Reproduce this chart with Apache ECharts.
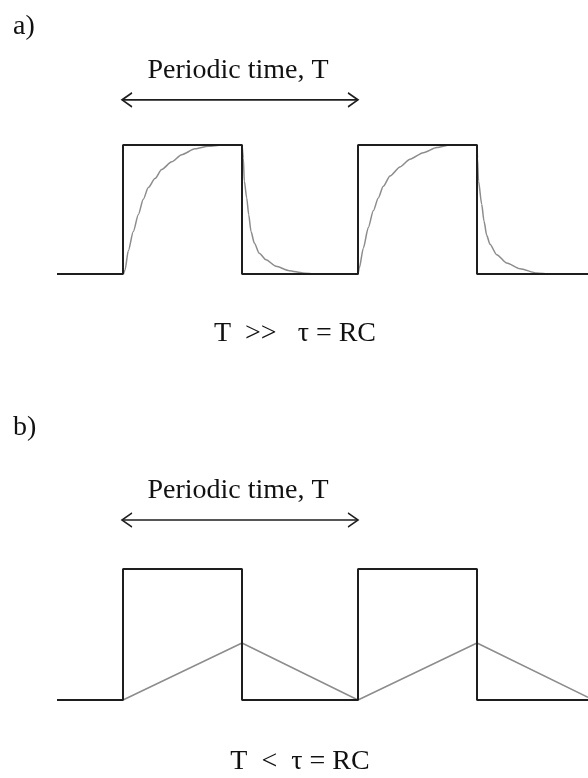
<!DOCTYPE html>
<html>
<head>
<meta charset="UTF-8">
<title>RC response to a square wave</title>
<script src="https://cdn.jsdelivr.net/npm/echarts@6/dist/echarts.min.js"></script>
<style>
  html, body { margin: 0; padding: 0; background: #fff; }
  #chart { width: 588px; height: 778px; }
</style>
</head>
<body>
<div id="chart"></div>
<script>
// time axis runs 0..588, level 0 = low, 1 = high
var squareWave = [[57,0],[123,0],[123,1],[242,1],[242,0],[358,0],[358,1],[477,1],[477,0],[588,0]];

// a) T >> RC : capacitor voltage
var rcShort = [
  [123.5,0],[125,0.03],[128.3,0.18],[133.3,0.33],[138.3,0.46],[143.3,0.58],[148.3,0.67],
  [155,0.74],[161.7,0.81],[171.7,0.87],[181.7,0.925],[195,0.97],[208.3,0.99],[221.7,1],[242,1],
  [243.3,0.9],[244.3,0.72],[246.7,0.59],[248.7,0.46],[251,0.33],[254.3,0.24],[259.3,0.16],
  [266,0.11],[276,0.06],[289.3,0.026],[302.7,0.008],[316,0],[358,0],
  [359.3,0.047],[363.3,0.2],[368.3,0.36],[373.3,0.49],[378.3,0.59],[383.3,0.68],[390,0.76],
  [400,0.83],[410,0.89],[423.3,0.94],[436.7,0.98],[450,1],[477,1],
  [477.5,0.9],[478.5,0.72],[481.7,0.54],[484,0.41],[486.7,0.30],[490,0.23],[496.7,0.15],
  [506.7,0.085],[520,0.04],[536.7,0.008],[550,0],[588,0]
];

// b) T < RC : triangle-ish ramp
var rcLong = [[123,0],[242,0.435],[358,0],[477,0.435],[588,0.02]];

// periodic time arrow: one rising edge to the next
var periodStart = 122, periodEnd = 358;
var arrowLevelA = 1.35, arrowLevelB = 1.374;

var labels = {
  a: 'a)', b: 'b)',
  period: 'Periodic time, T',
  condA: 'T\u2002>>\u2002 \u03c4 = RC',
  condB: 'T\u2002<\u2002\u03c4 = RC'
};

var serif = '"Liberation Serif", "DejaVu Serif", serif';
var black = '#1e1e1e', grey = '#8c8c8c';

function arrowSeries(idx, level) {
  return {
    type: 'line', xAxisIndex: idx, yAxisIndex: idx, clip: false, silent: true,
    showSymbol: true, symbolSize: [10, 14], animation: false,
    lineStyle: { color: black, width: 1.6 },
    itemStyle: { color: 'none', borderColor: black, borderWidth: 1.5 },
    emphasis: { disabled: true },
    data: [
      { value: [periodStart, level], symbol: 'path://M10,0 L0,7 L10,14', symbolOffset: [5, 0] },
      { value: [periodEnd, level], symbol: 'path://M0,0 L10,7 L0,14', symbolOffset: [-5, 0] }
    ]
  };
}

function waveSeries(idx, data, color, width, smooth) {
  return {
    type: 'line', xAxisIndex: idx, yAxisIndex: idx, clip: false, silent: true,
    showSymbol: false, animation: false, smooth: smooth || false, smoothMonotone: 'x',
    lineStyle: { color: color, width: width },
    emphasis: { disabled: true },
    data: data
  };
}

function text(str, x, y, align) {
  return {
    type: 'text', x: x, y: y, silent: true,
    style: { text: str, font: '28px ' + serif, fill: '#111', textAlign: align || 'center', textVerticalAlign: 'middle' }
  };
}

var chart = echarts.init(document.getElementById('chart'), null, { renderer: 'canvas' });
chart.setOption({
  backgroundColor: '#fff',
  animation: false,
  grid: [
    { left: 0, right: 0, top: 145, height: 129 },
    { left: 0, right: 0, top: 569, height: 131 }
  ],
  xAxis: [
    { type: 'value', gridIndex: 0, min: 0, max: 588, show: false },
    { type: 'value', gridIndex: 1, min: 0, max: 588, show: false }
  ],
  yAxis: [
    { type: 'value', gridIndex: 0, min: 0, max: 1, show: false },
    { type: 'value', gridIndex: 1, min: 0, max: 1, show: false }
  ],
  series: [
    waveSeries(0, rcShort, grey, 1.5, 0.25),
    waveSeries(0, squareWave, black, 2),
    arrowSeries(0, arrowLevelA),
    waveSeries(1, rcLong, grey, 1.5),
    waveSeries(1, squareWave, black, 2),
    arrowSeries(1, arrowLevelB)
  ],
  graphic: [
    text(labels.a, 13, 27, 'left'),
    text(labels.period, 238, 71),
    text(labels.condA, 295, 334),
    text(labels.b, 13, 428, 'left'),
    text(labels.period, 238, 491),
    text(labels.condB, 300, 762)
  ]
});
</script>
</body>
</html>
